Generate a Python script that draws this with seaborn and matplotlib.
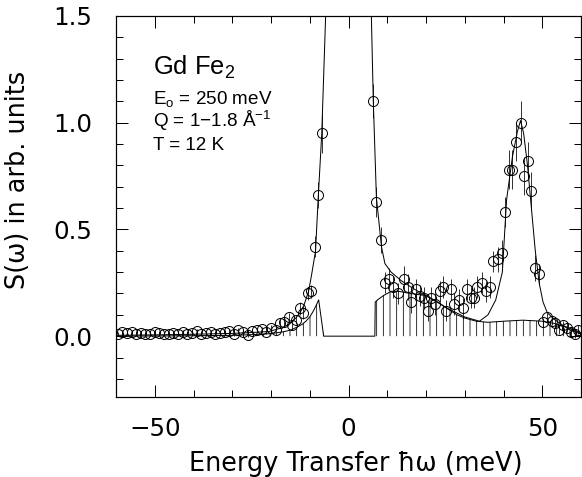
import numpy as np
import pandas as pd
import matplotlib
matplotlib.use("Agg")
import matplotlib.pyplot as plt
import seaborn as sns
from matplotlib.ticker import MultipleLocator, FixedLocator
from matplotlib import font_manager

# ---------------- data ----------------
energy = [-59.6, -58.4, -57.2, -56.0, -54.8, -53.6, -52.4, -51.2, -50.0, -48.8,
          -47.6, -46.4, -45.2, -44.0, -42.8, -41.6, -40.4, -39.2, -38.0, -36.8,
          -35.6, -34.4, -33.2, -32.0, -30.8, -29.6, -28.4, -27.2, -26.0, -24.8,
          -23.6, -22.4, -21.2, -20.0, -18.8,
          -17.8, -16.7, -15.4, -14.6, -13.6, -12.4, -11.8, -10.5, -9.8, -8.7, -7.9, -6.9,
          6.4, 7.2, 8.5, 9.4, 10.5, 11.5, 12.8, 14.3, 15.4, 16.2, 17.5, 18.4, 19.5,
          20.5, 21.2, 22.4, 23.5, 24.4, 25.2, 26.5, 27.3, 28.6, 29.5, 30.6, 31.6,
          32.5, 33.2, 34.4, 35.5, 36.5, 37.4, 38.5, 39.5, 40.3, 41.5, 42.3, 43.3,
          44.4, 45.3, 46.4, 47.2, 48.2, 49.2, 50.3, 51.3, 52.6, 53.3, 54.4, 55.4,
          56.4, 57.4, 58.5, 59.2]
intensity = [0.010, 0.020, 0.015, 0.020, 0.010, 0.015, 0.010, 0.010, 0.020, 0.015,
             0.010, 0.010, 0.015, 0.010, 0.020, 0.010, 0.015, 0.025, 0.010, 0.015,
             0.020, 0.010, 0.015, 0.020, 0.025, 0.010, 0.030, 0.020, 0.005, 0.025,
             0.030, 0.035, 0.020, 0.040, 0.030,
             0.060, 0.065, 0.090, 0.050, 0.075, 0.130, 0.110, 0.200, 0.210, 0.420, 0.660, 0.950,
             1.100, 0.630, 0.450, 0.250, 0.270, 0.230, 0.200, 0.270, 0.230, 0.160, 0.220, 0.190, 0.180,
             0.120, 0.180, 0.150, 0.210, 0.230, 0.120, 0.220, 0.150, 0.170, 0.130, 0.220, 0.180,
             0.180, 0.230, 0.250, 0.210, 0.230, 0.350, 0.360, 0.390, 0.580, 0.780, 0.780, 0.910,
             1.000, 0.750, 0.820, 0.680, 0.320, 0.290, 0.065, 0.090, 0.070, 0.060, 0.030, 0.050,
             0.040, 0.020, 0.010, 0.030]
error = [0.010] * 35 + \
        [0.020, 0.020, 0.020, 0.020, 0.020, 0.030, 0.030, 0.030, 0.030, 0.050, 0.060, 0.090,
         0.080, 0.070, 0.060, 0.050, 0.050, 0.050, 0.050, 0.060, 0.060, 0.050, 0.050, 0.050, 0.050,
         0.050, 0.050, 0.050, 0.050, 0.050, 0.050, 0.050, 0.050, 0.050, 0.050, 0.050, 0.050,
         0.050, 0.050, 0.050, 0.050, 0.050, 0.050, 0.060, 0.060, 0.070, 0.090, 0.090, 0.090,
         0.100, 0.090, 0.090, 0.090, 0.060, 0.050, 0.020, 0.020, 0.020, 0.020, 0.020, 0.020,
         0.020, 0.020, 0.020, 0.020]

fit_energy = [-60, -50, -40, -30, -25, -20.5, -17, -15, -13.6, -12.5, -11.5, -10.3, -9.5,
              -8.5, -7.9, -6.9, -5.9, -5.5, 5.5, 5.9, 6.4, 7.2, 8.5, 9.4, 11, 13.6, 17, 21,
              25.6, 30, 33.8, 36, 38, 39.7, 40.8, 42.3, 43.6, 44.4, 45.2, 46.2, 47, 48.2,
              49.2, 50.2, 51.3, 53, 54.6, 57, 60]
fit_intensity = [0.004, 0.006, 0.009, 0.013, 0.017, 0.022, 0.040, 0.060, 0.085, 0.110, 0.145,
                 0.210, 0.290, 0.400, 0.620, 0.950, 1.500, 1.800, 1.800, 1.500, 1.100, 0.650,
                 0.420, 0.340, 0.300, 0.260, 0.220, 0.180, 0.130, 0.090, 0.070, 0.100, 0.170,
                 0.300, 0.640, 0.840, 0.960, 1.010, 0.950, 0.800, 0.640, 0.400, 0.250, 0.160,
                 0.110, 0.080, 0.060, 0.030, 0.010]

bg_energy = [-60, -40, -30, -25, -20, -17, -15, -13, -12, -11, -10, -9, -8.2, -7.7, -6.4,
             6.8, 6.9, 7.5, 9, 11, 13, 16, 20, 23, 25, 28, 30, 33, 36, 40, 45, 50, 53, 56, 58, 60]
bg_intensity = [0.0, 0.002, 0.004, 0.007, 0.012, 0.020, 0.028, 0.045, 0.055, 0.070, 0.090,
                0.120, 0.150, 0.170, 0.0, 0.0, 0.160, 0.170, 0.190, 0.210, 0.210, 0.200,
                0.190, 0.160, 0.135, 0.100, 0.085, 0.070, 0.065, 0.070, 0.075, 0.070, 0.060,
                0.045, 0.030, 0.015]

x_major = [-50, 0, 50]
x_labels = ["\u221250", "0", "50"]
y_major = [0.0, 0.5, 1.0, 1.5]
y_labels = ["0.0", "0.5", "1.0", "1.5"]

# ---------------- style ----------------
sns.set_theme(style="ticks")
plt.rcParams["font.family"] = ["DejaVu Sans"]
for key in ["text.color", "axes.labelcolor", "xtick.color", "ytick.color", "axes.edgecolor"]:
    plt.rcParams[key] = "black"
plt.rcParams["hatch.linewidth"] = 0.7
available = {f.name for f in font_manager.fontManager.ttflist}
anno_font = "Liberation Sans" if "Liberation Sans" in available else "DejaVu Sans"
plt.rcParams["mathtext.fontset"] = "custom"
plt.rcParams["mathtext.rm"] = anno_font
plt.rcParams["mathtext.it"] = anno_font
plt.rcParams["mathtext.bf"] = anno_font

DPI = 80
fig = plt.figure(figsize=(582 / DPI, 477 / DPI), dpi=DPI)
ax = fig.add_axes([116 / 582, 1 - 397 / 477, 465 / 582, 381 / 477])

df_bg = pd.DataFrame({"E": bg_energy, "S": bg_intensity})
df_fit = pd.DataFrame({"E": fit_energy, "S": fit_intensity})

ax.fill_between(df_bg["E"], 0, df_bg["S"], facecolor="none", edgecolor="black",
                hatch="||", linewidth=0)
sns.lineplot(data=df_bg, x="E", y="S", ax=ax, color="black", lw=0.9,
             sort=False, estimator=None)
sns.lineplot(data=df_fit, x="E", y="S", ax=ax, color="black", lw=0.9,
             sort=False, estimator=None)
ax.errorbar(energy, intensity, yerr=error, fmt="o", mfc="none", mec="black",
            ms=9, mew=0.9, ecolor="black", elinewidth=0.7, capsize=0)

ax.set_xlim(-60, 60)
ax.set_ylim(-0.285, 1.5)
ax.xaxis.set_major_locator(FixedLocator(x_major))
ax.xaxis.set_minor_locator(MultipleLocator(10))
ax.yaxis.set_major_locator(FixedLocator(y_major))
ax.yaxis.set_minor_locator(MultipleLocator(0.1))
ax.set_yticklabels(y_labels)
ax.set_xticklabels(x_labels)

ax.tick_params(which="both", direction="in", top=True, right=True, color="black",
               width=0.9)
ax.tick_params(which="major", length=11)
ax.tick_params(which="minor", length=6)
ax.tick_params(axis="y", which="major", pad=21.5, labelsize=22)
ax.tick_params(axis="x", which="major", pad=18, labelsize=22)
for s in ax.spines.values():
    s.set_linewidth(1.1)
    s.set_color("black")

ax.set_xlabel("Energy Transfer \u0127\u03c9 (meV)", fontsize=23, va="baseline")
ax.xaxis.set_label_coords(0.516, -0.194)
ax.set_ylabel("S(\u03c9) in arb. units", fontsize=23, va="baseline")
ax.yaxis.set_label_coords(-0.196, 0.57)

ax.text(0.079, 0.845, r"Gd Fe$_2$", transform=ax.transAxes, family=anno_font,
        fontsize=23, va="baseline")
ax.text(0.079, 0.769, r"E$_\mathrm{o}$ = 250 meV", transform=ax.transAxes,
        family=anno_font, fontsize=17, va="baseline")
ax.text(0.079, 0.709, "Q = 1\u22121.8 \u00c5$^{-1}$", transform=ax.transAxes,
        family=anno_font, fontsize=17, va="baseline")
ax.text(0.079, 0.648, "T = 12 K", transform=ax.transAxes, family=anno_font,
        fontsize=17, va="baseline")

fig.savefig("out.png", dpi=DPI)
